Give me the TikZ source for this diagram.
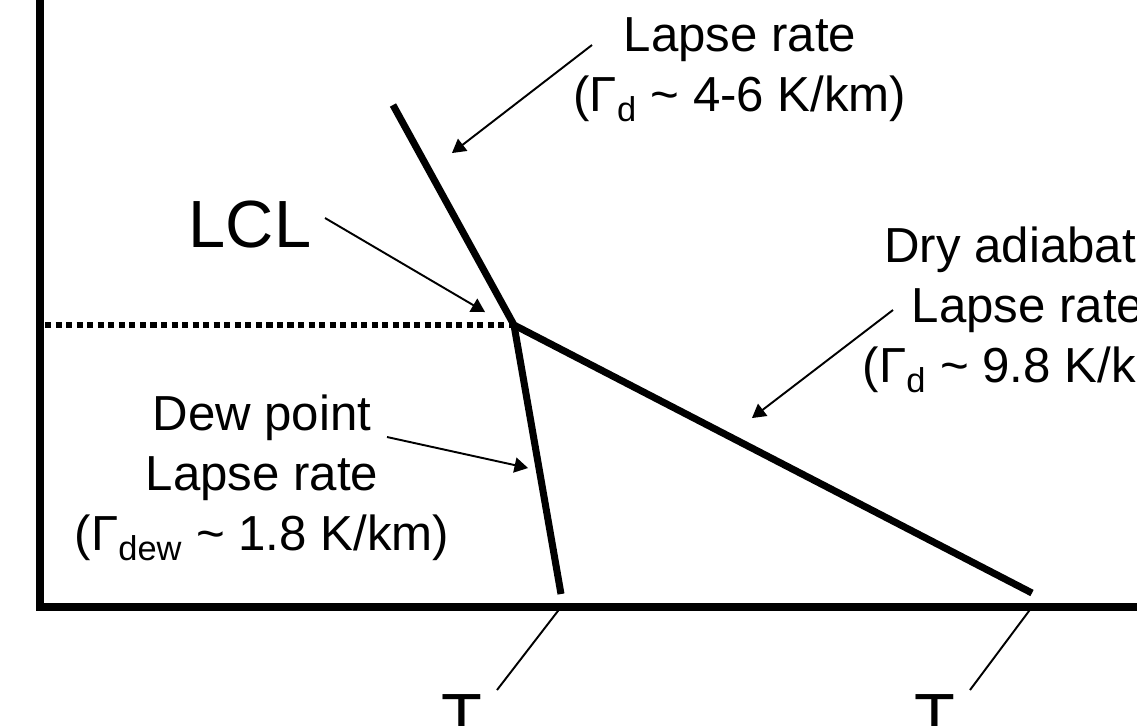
\documentclass[tikz,border=0pt]{standalone}
\usepackage{fontspec}
\setmainfont{Liberation Sans}
\usetikzlibrary{arrows}

\begin{document}
\begin{tikzpicture}[x=0.02cm, y=-0.02cm,
    axis/.style={line width=4.5pt},
    curve/.style={line width=4pt},
    pointer/.style={-triangle 60, line width=1.1pt},
    lbl/.style={align=center, font=\fontsize{28}{34}\selectfont, inner sep=0pt}]
\useasboundingbox (0,0) rectangle (1137,725);
\clip (0,0) rectangle (1137,725);
% axes
\coordinate (top) at (40,-10);
\coordinate (origin) at (40,607);
\coordinate (right) at (1150,607);
\draw[axis] (top) -- (origin) -- (right);
% profiles
\coordinate (env) at (393,105);
\coordinate (lcl) at (514,325);
\coordinate (dew) at (561,594);
\coordinate (dry) at (1032,593);
\draw[curve] (env) -- (lcl) -- (dry);
\draw[curve] (lcl) -- (dew);
\coordinate (left) at (45,325);
\draw[line width=3.5pt, dash pattern=on 3.5pt off 2.5pt] (left) -- (lcl);
% labels
\node[lbl] (lapse) at (740,70) {Lapse rate\\(Γ\textsubscript{d} \textasciitilde{} 4-6 K/km)};
\node[font=\fontsize{38}{40}\selectfont, inner sep=0pt] (lclname) at (250,225) {LCL};
\node[lbl] (drylbl) at (1028,310) {Dry adiabatic\\Lapse rate\\(Γ\textsubscript{d} \textasciitilde{} 9.8 K/km)};
\node[lbl] (dewlbl) at (262,478) {Dew point\\Lapse rate\\(Γ\textsubscript{dew} \textasciitilde{} 1.8 K/km)};
\node[font=\fontsize{38}{40}\selectfont, inner sep=0pt, anchor=north] (tdew) at (462,694) {T};
\node[font=\fontsize{38}{40}\selectfont, inner sep=0pt, anchor=north] (tdry) at (935,694) {T};
% pointers
\draw[pointer] (592,45) -- (452,153);
\draw[pointer] (325,218) -- (485,312);
\draw[pointer] (893,310) -- (752,418);
\draw[pointer] (387,437) -- (528,468);
\draw[line width=1.1pt] (561,607) -- (497,690);
\draw[line width=1.1pt] (1032,607) -- (970,690);
\end{tikzpicture}
\end{document}
